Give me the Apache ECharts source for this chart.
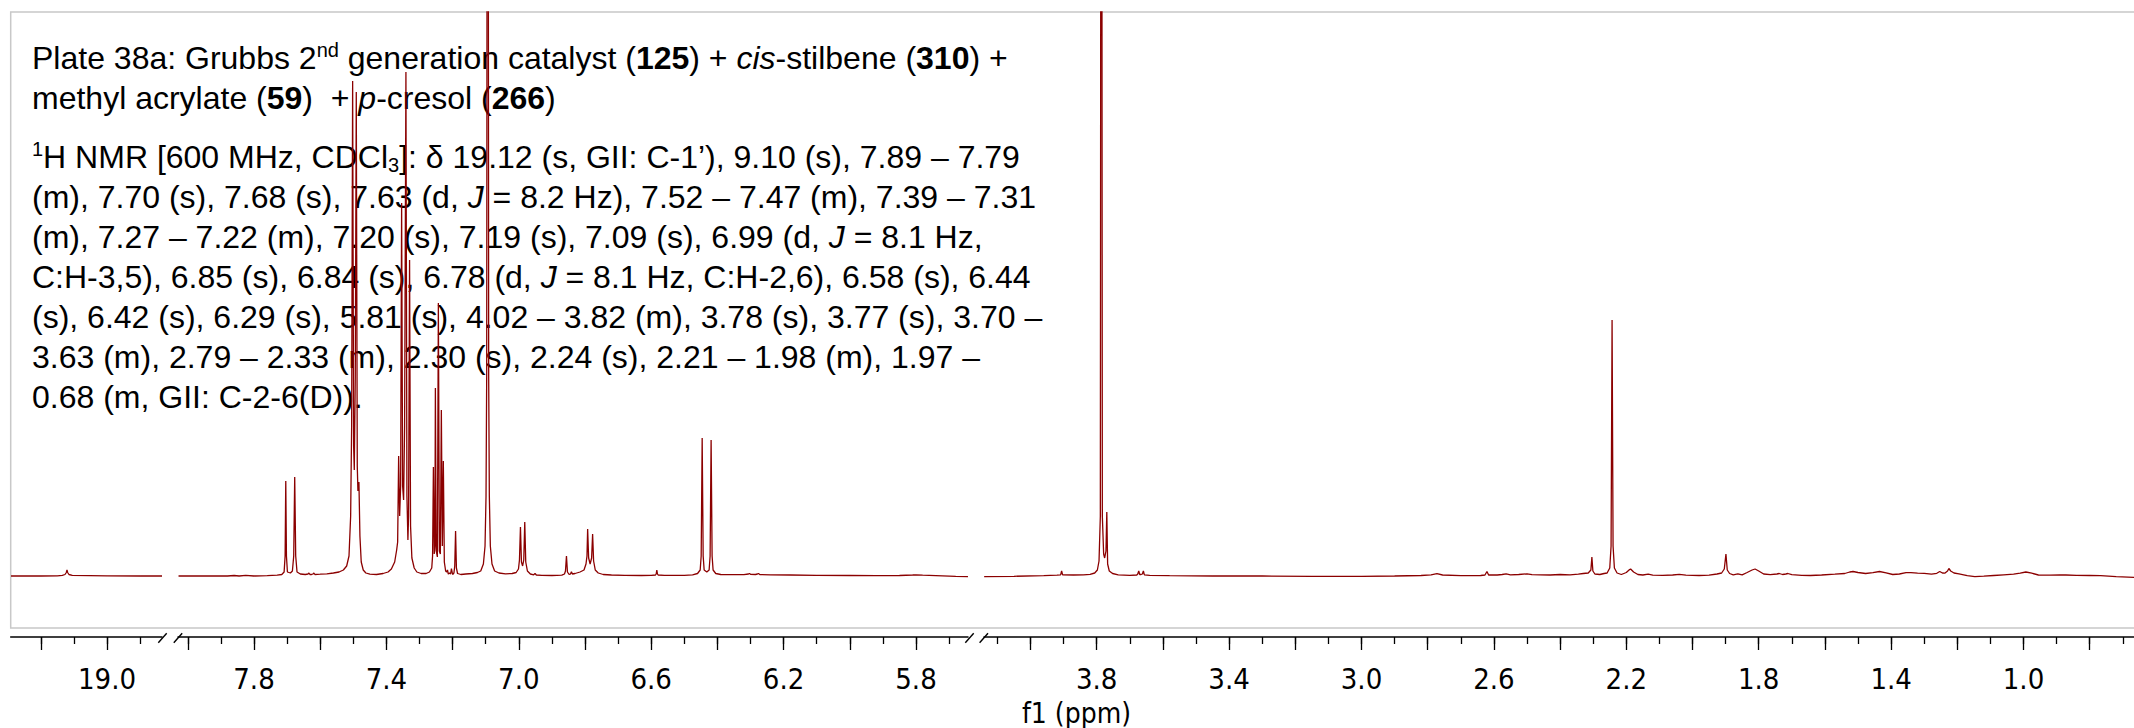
<!DOCTYPE html>
<html><head><meta charset="utf-8">
<script src="https://cdn.jsdelivr.net/npm/echarts/dist/echarts.min.js"></script>
<style>html,body{margin:0;padding:0;background:#fff}#c{width:2134px;height:728px}</style>
</head><body><div id="c"></div>
<script>
// ---------- DATA (chemical shift in ppm, intensity in arbitrary units) ----------
const seg1Shift = [19.29, 19.2, 19.15, 19.135, 19.127, 19.123, 19.121, 19.119, 19.115, 19.105, 19.0, 18.9, 18.834];
const seg1Intensity = [0, 0, 0.2, 0.6, 1.5, 3.5, 6, 3.5, 1.5, 0.6, 0.2, 0, 0];

const seg2Shift = [8.028,7.95,7.88,7.86,7.845,7.825,7.80,7.76,7.73,7.716,7.709,7.706,7.704,7.702,7.699,7.690,7.684,7.680,7.677,7.674,7.670,7.660,7.645,7.637,7.634,7.631,7.626,7.622,7.619,7.616,7.60,7.58,7.56,7.543,7.53,7.52,7.513,7.508,7.505,7.502,7.499,7.497,7.494,7.491,7.488,7.486,7.483,7.480,7.476,7.470,7.462,7.45,7.43,7.41,7.395,7.385,7.375,7.369,7.366,7.363,7.360,7.357,7.354,7.351,7.348,7.345,7.341,7.338,7.335,7.333,7.330,7.327,7.323,7.316,7.308,7.295,7.28,7.27,7.263,7.2605,7.258,7.2555,7.2535,7.252,7.2495,7.246,7.243,7.240,7.237,7.234,7.231,7.228,7.225,7.221,7.218,7.2155,7.213,7.209,7.206,7.2035,7.200,7.196,7.1935,7.191,7.1885,7.185,7.175,7.16,7.14,7.125,7.115,7.107,7.102,7.099,7.097,7.094,7.091,7.089,7.086,7.081,7.073,7.06,7.04,7.02,7.008,7.001,6.998,6.995,6.992,6.9885,6.985,6.982,6.979,6.974,6.965,6.955,6.951,6.947,6.93,6.90,6.87,6.862,6.859,6.856,6.853,6.848,6.8435,6.841,6.838,6.83,6.815,6.803,6.797,6.794,6.792,6.789,6.7845,6.780,6.777,6.774,6.769,6.76,6.745,6.72,6.68,6.63,6.60,6.587,6.585,6.583,6.581,6.579,6.56,6.50,6.475,6.46,6.452,6.449,6.446,6.443,6.440,6.432,6.425,6.422,6.419,6.416,6.413,6.405,6.39,6.36,6.32,6.306,6.303,6.30,6.285,6.279,6.276,6.272,6.24,6.18,6.10,6.00,5.92,5.85,5.81,5.80,5.78,5.72,5.68,5.643];
const seg2Intensity = [0,0,0,0.5,0,0.6,0,0.3,0.8,1.5,4,20,95,20,4,3,5,20,99,20,4,2,1.5,2,3,1.5,1.5,2,3,1.5,1.8,2.2,3,4,6,10,20,60,150,495,130,106,200,484,110,85,94,40,14,6,3,1.8,1.5,2.5,4,7,14,26,34,120,60,90,373,90,76,150,504,80,36,60,316,50,18,8,4,2.5,2.5,4,8,20,109,22,30,188,25,19,273,25,22,166,30,115,14,5,4,6,2,3,2,7.5,1.5,3,10,45,8,2.5,1.5,2,2.5,3.5,5,12,30,80,200,1500,200,80,30,12,5,3,2.2,2.5,3.5,7,16,49,14,10,16,54,14,5,2,1.2,2.5,1,0.7,0.5,0.8,2,5,20,4,1.5,2.2,4.3,2,2.5,4,6,12,20,47,18,12,18,42,15,6,3,1.5,1,0.6,0.5,0.6,1,2,6,2,1,0.7,0.7,1.2,2.5,6,20,138,20,6,4,6,20,136,20,6,2.5,1.5,1.3,1.3,2,2.5,1.7,1.5,2,2.5,1.5,1.2,1,0.7,0.5,0.4,0.5,1,1.2,0.8,0.2,-0.3,-0.7];

const seg3Shift = [4.14,4.05,3.96,3.92,3.909,3.906,3.903,3.87,3.84,3.82,3.806,3.798,3.793,3.789,3.786,3.783,3.779,3.776,3.772,3.7695,3.767,3.762,3.752,3.735,3.70,3.679,3.676,3.673,3.670,3.666,3.662,3.659,3.656,3.64,3.58,3.45,3.30,3.15,3.00,2.90,2.82,2.79,2.772,2.755,2.70,2.64,2.627,2.621,2.616,2.59,2.575,2.563,2.55,2.525,2.50,2.485,2.46,2.43,2.40,2.37,2.345,2.33,2.315,2.307,2.304,2.301,2.295,2.28,2.267,2.258,2.25,2.246,2.243,2.240,2.236,2.228,2.215,2.20,2.19,2.187,2.178,2.165,2.15,2.134,2.12,2.09,2.06,2.04,2.02,1.98,1.95,1.926,1.912,1.904,1.899,1.895,1.888,1.877,1.863,1.85,1.835,1.82,1.811,1.80,1.785,1.765,1.745,1.738,1.728,1.718,1.712,1.70,1.67,1.644,1.61,1.57,1.54,1.525,1.515,1.50,1.477,1.455,1.435,1.415,1.395,1.375,1.355,1.34,1.32,1.30,1.278,1.262,1.253,1.245,1.238,1.2295,1.2255,1.22,1.21,1.195,1.17,1.147,1.12,1.09,1.06,1.03,1.01,0.993,0.975,0.955,0.92,0.89,0.872,0.84,0.80,0.767,0.72,0.666];
const seg3Intensity = [-0.7,-0.3,0.3,0.8,1.2,5,1.2,1,1.2,1.7,3,6,15,60,1500,60,22,18,25,64,12,5,2.5,1.2,0.6,1,2,5,1.5,1.5,2,5,1.2,0.6,0.3,0,0,-0.3,-0.3,0,0.5,1.2,2.3,1,0.3,0.5,1,4.5,1,1,1.5,2.2,1.2,1.5,2.2,1.3,1.2,1,1.5,1.2,1.8,2.5,3,6,19,5,2,1.5,2.5,3,8,30,256,30,8,3,1.5,3.5,6.5,7,4,1.5,1,1.8,0.8,0.6,1,1.6,0.8,0.5,0.8,2,3,7,22,6,2.5,1.2,2.2,1.2,3.5,6,7,5,2,1.3,2,2.5,1.5,2,2.5,1.3,0.6,0.5,1,1.8,2.5,4,4.5,3.5,2.5,3.3,4.5,3.2,1.5,2,3.4,3.3,2.9,2.7,1.8,2.7,4.5,3,2.8,5,7.5,5,3,2.2,0.3,-0.6,-0.2,0.5,1.2,1.8,2.8,4,2.8,1,0.8,1,1,0.6,0.5,0.3,-0.6,-1.3];

// axis ticks (ppm)
const seg1MajorTicks = [19.2, 19.0];
const seg1MinorTicks = [19.2, 19.1, 19.0, 18.9];
const seg1TickLabels = [19.0];
const seg2MajorTicks = [8.0, 7.8, 7.6, 7.4, 7.2, 7.0, 6.8, 6.6, 6.4, 6.2, 6.0, 5.8];
const seg2MinorTicks = [8.0, 7.9, 7.8, 7.7, 7.6, 7.5, 7.4, 7.3, 7.2, 7.1, 7.0, 6.9, 6.8, 6.7, 6.6, 6.5, 6.4, 6.3, 6.2, 6.1, 6.0, 5.9, 5.8, 5.7];
const seg2TickLabels = [7.8, 7.4, 7.0, 6.6, 6.2, 5.8];
const seg3MajorTicks = [4.0, 3.8, 3.6, 3.4, 3.2, 3.0, 2.8, 2.6, 2.4, 2.2, 2.0, 1.8, 1.6, 1.4, 1.2, 1.0, 0.8];
const seg3MinorTicks = [4.1, 4.0, 3.9, 3.8, 3.7, 3.6, 3.5, 3.4, 3.3, 3.2, 3.1, 3.0, 2.9, 2.8, 2.7, 2.6, 2.5, 2.4, 2.3, 2.2, 2.1, 2.0, 1.9, 1.8, 1.7, 1.6, 1.5, 1.4, 1.3, 1.2, 1.1, 1.0, 0.9, 0.8, 0.7];
const seg3TickLabels = [3.8, 3.4, 3.0, 2.6, 2.2, 1.8, 1.4, 1.0];

// visible ppm windows of the three broken-axis segments
const seg1Range = [18.834, 19.291];
const seg2Range = [5.6429, 8.0296];
const seg3Range = [0.6662, 4.1405];

const titleLines = [
  'Plate 38a: Grubbs 2{sup|nd} generation catalyst ({b|125}) + {i|cis}-stilbene ({b|310}) +',
  'methyl acrylate ({b|59})  + {i|p}-cresol ({b|266})'
];
const nmrLines = [
  '{sup|1}H NMR [600 MHz, CDCl{sub|3}]: δ 19.12 (s, GII: C-1’), 9.10 (s), 7.89 – 7.79',
  '(m), 7.70 (s), 7.68 (s), 7.63 (d, {i|J} = 8.2 Hz), 7.52 – 7.47 (m), 7.39 – 7.31',
  '(m), 7.27 – 7.22 (m), 7.20 (s), 7.19 (s), 7.09 (s), 6.99 (d, {i|J} = 8.1 Hz,',
  'C:H-3,5), 6.85 (s), 6.84 (s), 6.78 (d, {i|J} = 8.1 Hz, C:H-2,6), 6.58 (s), 6.44',
  '(s), 6.42 (s), 6.29 (s), 5.81 (s), 4.02 – 3.82 (m), 3.78 (s), 3.77 (s), 3.70 –',
  '3.63 (m), 2.79 – 2.33 (m), 2.30 (s), 2.24 (s), 2.21 – 1.98 (m), 1.97 –',
  '0.68 (m, GII: C-2-6(D)).'
];
const axisTitle = 'f1 (ppm)';

// ---------- CHART ----------
const zip = (a, b) => a.map((v, i) => [v, b[i]]);
const TXT = "'Liberation Sans', Arial, sans-serif";
const AX = "'DejaVu Sans Condensed', 'DejaVu Sans', sans-serif";
const LINE_COLOR = '#8b0000';

const grids = [
  { left: 10.7, width: 151.3, top: 12, height: 616 },
  { left: 178, width: 790, top: 12, height: 616 },
  { left: 984, width: 1150, top: 12, height: 616 }
];
const ranges = [seg1Range, seg2Range, seg3Range];
const majors = [seg1MajorTicks, seg2MajorTicks, seg3MajorTicks];
const minors = [seg1MinorTicks, seg2MinorTicks, seg3MinorTicks];
const labels = [seg1TickLabels, seg2TickLabels, seg3TickLabels];
const spectra = [zip(seg1Shift, seg1Intensity), zip(seg2Shift, seg2Intensity), zip(seg3Shift, seg3Intensity)];

const xAxes = [];
const yAxes = [];
const series = [];
for (let g = 0; g < 3; g++) {
  const base = {
    gridIndex: g, type: 'value', min: ranges[g][0], max: ranges[g][1], inverse: true,
    position: 'bottom', offset: 9, splitLine: { show: false }
  };
  xAxes.push(Object.assign({}, base, {
    axisLine: { show: true, onZero: false, lineStyle: { color: '#000', width: 1.5 } },
    axisTick: { show: true, customValues: majors[g], length: 13, lineStyle: { color: '#000', width: 1.3 } },
    axisLabel: { show: true, customValues: labels[g], formatter: v => Number(v).toFixed(1),
      margin: 29, fontSize: 29, lineHeight: 26, fontFamily: AX, color: '#000' }
  }));
  xAxes.push(Object.assign({}, base, {
    axisLine: { show: false, onZero: false },
    axisTick: { show: true, customValues: minors[g], length: 7, lineStyle: { color: '#000', width: 1.3 } },
    axisLabel: { show: false }
  }));
  yAxes.push({ gridIndex: g, type: 'value', min: -52, max: 564, show: false });
  series.push({
    type: 'line', xAxisIndex: 2 * g, yAxisIndex: g, data: spectra[g],
    symbol: 'none', showSymbol: false, clip: true, silent: true, z: 5,
    lineStyle: { color: LINE_COLOR, width: 1.3 }
  });
}

const rich = {
  b: { fontWeight: 'bold', fontSize: 32, fontFamily: TXT, lineHeight: 36, fill: '#000' },
  i: { fontStyle: 'italic', fontSize: 32, fontFamily: TXT, lineHeight: 36, fill: '#000' },
  sup: { fontSize: 20, fontFamily: TXT, lineHeight: 20, verticalAlign: 'top', fill: '#000' },
  sub: { fontSize: 20, fontFamily: TXT, lineHeight: 20, verticalAlign: 'bottom', fill: '#000' }
};
const textEl = (t, y) => ({
  type: 'text', x: 32, y: y, z: 1,
  style: { text: t, fontSize: 32, fontFamily: TXT, fill: '#000', align: 'left', verticalAlign: 'middle', lineHeight: 36, rich: rich }
});
const slash = cx => ({
  type: 'line', z: 3,
  shape: { x1: cx - 4.2, y1: 642.7, x2: cx + 4.2, y2: 633.3 },
  style: { stroke: '#000', lineWidth: 1.4 }
});

const graphics = [
  { type: 'rect', z: 0, shape: { x: 10.7, y: 12, width: 2200, height: 616 },
    style: { fill: 'none', stroke: '#c8c8c8', lineWidth: 1.5 } },
  slash(162.5), slash(178), slash(969.5), slash(983.8),
  { type: 'text', x: 1076.5, y: 713, z: 1,
    style: { text: axisTitle, fontSize: 28, lineHeight: 24, fontFamily: AX, fill: '#000', align: 'center', verticalAlign: 'middle' } }
];
const titleY = [58, 98];
titleLines.forEach((t, i) => graphics.push(textEl(t, titleY[i])));
nmrLines.forEach((t, i) => graphics.push(textEl(t, 157 + 40 * i)));

const chart = echarts.init(document.getElementById('c'), null, { renderer: 'svg' });
chart.setOption({
  animation: false,
  backgroundColor: '#fff',
  grid: grids,
  xAxis: xAxes,
  yAxis: yAxes,
  series: series,
  graphic: { elements: graphics }
});
</script></body></html>
